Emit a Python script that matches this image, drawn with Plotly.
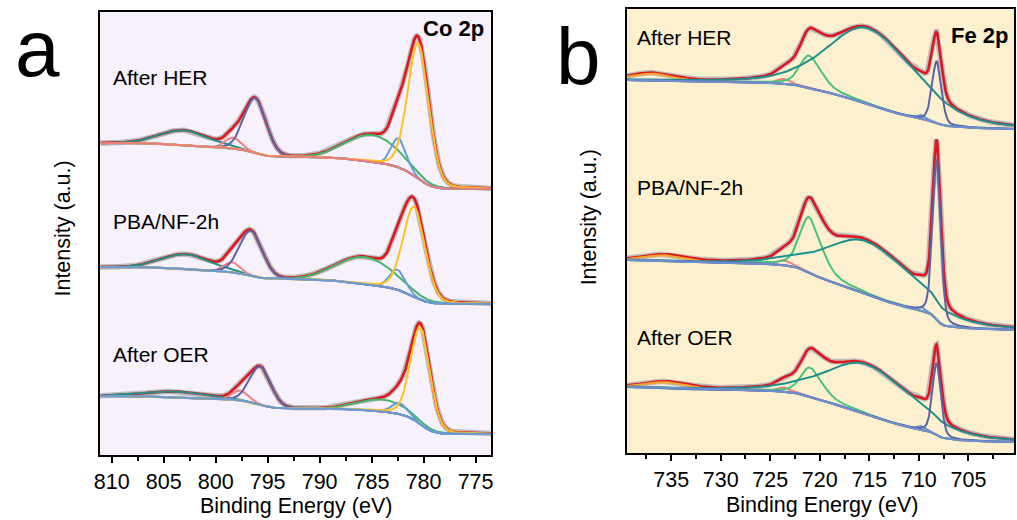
import numpy as np
import plotly.graph_objects as go
from plotly.subplots import make_subplots

# ---------------- Co 2p fit parameters ----------------
# component order: satellite 2p1/2, Co3+ 2p1/2, Co2+ 2p1/2, satellite 2p3/2, Co3+ 2p3/2, Co2+ 2p3/2
co_colors = ["#23908a", "#ef8080", "#5e64aa", "#43b46c", "#659fd8", "#ffc21c"]
co_samples = ["After HER", "PBA/NF-2h", "After OER"]
co_centers_her = [803.0, 798.3, 796.2, 784.9, 782.4, 780.5]
co_heights_her = [15, 11, 55, 27, 29, 135]
co_centers_pba = [802.8, 798.4, 796.6, 785.6, 782.5, 780.9]
co_heights_pba = [15, 10, 45, 27, 20, 90]
co_centers_oer = [803.6, 797.6, 795.7, 783.9, 782.3, 780.3]
co_heights_oer = [6, 10, 38, 12, 11, 97]
co_fwhm_her = [5.5, 1.8, 2.5, 6.0, 1.7, 2.4]
co_fwhm_pba = [5.5, 1.8, 2.6, 6.5, 1.8, 2.5]
co_fwhm_oer = [7.0, 1.8, 2.4, 5.5, 1.8, 2.2]
co_lfrac = [0.0, 0.0, 0.1, 0.0, 0.0, 0.15]
# background levels (high-BE end, low-BE end)
co_bg_her = [312, 266]
co_bg_pba = [188, 151]
co_bg_oer = [59, 21]
co_bg_colors = ["#ef7b7b", "#6a9bd6", "#6a9bd6"]

# ---------------- Fe 2p fit parameters ----------------
# component order: satellite, Fe 2p1/2 shoulder, Fe 2p1/2, broad 2p3/2, shoulder, Fe 2p3/2
fe_colors = ["#f4a62a", "#ee8282", "#47c27a", "#1c8f8f", "#6d8fd0", "#5a62a8"]
fe_samples = ["After HER", "PBA/NF-2h", "After OER"]
fe_centers_her = [736.8, 723.6, 721.1, 715.1, 709.7, 708.2]
fe_heights_her = [7, 5, 32, 76, 4, 62]
fe_centers_pba = [735.4, 723.6, 721.1, 715.3, 709.7, 708.2]
fe_heights_pba = [6, 5, 55, 53, 4, 160]
fe_centers_oer = [735.4, 723.6, 721.0, 715.3, 709.7, 708.2]
fe_heights_oer = [6, 4, 29, 50, 4, 72]
fe_fwhm_high = [5.0, 1.5, 2.2, 9.6, 1.0, 1.1]   # width on the high-BE side
fe_fwhm_low = [5.0, 1.5, 3.0, 11.5, 1.0, 1.1]   # width on the low-BE side
fe_navy_fwhm = [1.1, 0.95, 1.0]
fe_lfrac = [0.0, 0.0, 0.5, 0.3, 0.0, 0.3]
fe_bg_her = [373, 324]
fe_bg_pba = [193, 123]
fe_bg_oer = [66, 11]
fe_bg_colors = ["#6d8fd0", "#6d8fd0", "#6d8fd0"]

W, H = 1017, 520
FONT = "Arial, Liberation Sans, sans-serif"
RED = "#e0161f"
GREY = "#bdbdbd"


def peak(E, c, h, fh, fl, m):
    """Asymmetric pseudo-Voigt line shape."""
    f = np.where(E >= c, fh, fl)
    d = (E - c) / f
    g = np.exp(-4 * np.log(2) * d ** 2)
    lor = 1.0 / (1.0 + 4 * d ** 2)
    return h * ((1 - m) * g + m * lor)


def shirley(E, signal, bg_high, bg_low):
    """Shirley-type step background, E ascending."""
    cum = np.cumsum(signal)
    return bg_low + (bg_high - bg_low) * cum / cum[-1]


def add_spectrum(fig, col, E, comps, bg_levels, colors, bg_color):
    peaks = [peak(E, *p) for p in comps]
    total = np.sum(peaks, axis=0)
    bg = shirley(E, total, bg_levels[0], bg_levels[1])
    env = bg + total
    fig.add_trace(go.Scatter(x=E, y=env, mode="lines",
                             line=dict(color=GREY, width=5.5)), row=1, col=col)
    fig.add_trace(go.Scatter(x=E, y=env, mode="lines",
                             line=dict(color=RED, width=2.6)), row=1, col=col)
    for pk, c in zip(peaks, colors):
        fig.add_trace(go.Scatter(x=E, y=bg + pk, mode="lines",
                                 line=dict(color=c, width=2)), row=1, col=col)
    fig.add_trace(go.Scatter(x=E, y=bg, mode="lines",
                             line=dict(color=bg_color, width=2)), row=1, col=col)


fig = make_subplots(rows=1, cols=2)

co_range = [811.1, 773.5]
fe_range = [739.45, 700.4]
E_co = np.linspace(co_range[1], co_range[0], 900)
E_fe = np.linspace(fe_range[1], fe_range[0], 900)

co_sets = [
    (co_centers_her, co_heights_her, co_fwhm_her, co_bg_her),
    (co_centers_pba, co_heights_pba, co_fwhm_pba, co_bg_pba),
    (co_centers_oer, co_heights_oer, co_fwhm_oer, co_bg_oer),
]
for k, (cs, hs, fs, bgl) in enumerate(co_sets):
    comps = [(c, h, f, f, m) for c, h, f, m in zip(cs, hs, fs, co_lfrac)]
    add_spectrum(fig, 1, E_co, comps, bgl, co_colors, co_bg_colors[k])

fe_sets = [
    (fe_centers_her, fe_heights_her, fe_bg_her),
    (fe_centers_pba, fe_heights_pba, fe_bg_pba),
    (fe_centers_oer, fe_heights_oer, fe_bg_oer),
]
for k, (cs, hs, bgl) in enumerate(fe_sets):
    fh = list(fe_fwhm_high)
    fl = list(fe_fwhm_low)
    fh[5] = fl[5] = fe_navy_fwhm[k]
    comps = [(c, h, a, b, m) for c, h, a, b, m in zip(cs, hs, fh, fl, fe_lfrac)]
    add_spectrum(fig, 2, E_fe, comps, bgl, fe_colors, fe_bg_colors[k])


def px(x):
    return x / W


def py(y):
    return 1 - y / H


xaxis_common = dict(
    showline=True, mirror=True, linecolor="black", linewidth=2,
    ticks="outside", ticklen=6, tickwidth=1.5, tickcolor="black",
    dtick=5, tick0=0, showgrid=False, zeroline=False,
    tickfont=dict(family=FONT, size=21.5, color="black"),
    minor=dict(dtick=2.5, ticks="outside", ticklen=4, tickwidth=1.5,
               tickcolor="black", showgrid=False),
)
yaxis_common = dict(
    showline=True, mirror=True, linecolor="black", linewidth=2,
    ticks="", showticklabels=False, showgrid=False, zeroline=False,
)

fig.update_layout(
    width=W, height=H,
    margin=dict(l=0, r=0, t=0, b=0),
    paper_bgcolor="white", plot_bgcolor="white",
    showlegend=False,
    xaxis=dict(domain=[px(95), px(489)], range=co_range, **xaxis_common),
    yaxis=dict(domain=[py(455), py(12)], range=[0, 443], **yaxis_common),
    xaxis2=dict(domain=[px(626), px(1016)], range=fe_range, **xaxis_common),
    yaxis2=dict(domain=[py(453), py(9)], range=[0, 444], **yaxis_common),
    shapes=[
        dict(type="rect", xref="x domain", yref="y domain", x0=0, x1=1, y0=0, y1=1,
             fillcolor="#f6f1fb", line=dict(width=0), layer="below"),
        dict(type="rect", xref="x2 domain", yref="y2 domain", x0=0, x1=1, y0=0, y1=1,
             fillcolor="#fdf0cf", line=dict(width=0), layer="below"),
    ],
)

ann = []


def text(x, y, s, size=21, xanchor="center", bold=False, angle=0):
    ann.append(dict(
        x=px(x), y=py(y), xref="paper", yref="paper", text=s, showarrow=False,
        xanchor=xanchor, yanchor="middle", textangle=angle,
        font=dict(family=FONT, size=size, color="black",
                  weight="bold" if bold else "normal"),
    ))


# panel letters
text(32, 48, "a", size=80)
text(577, 56, "b", size=80)
# spectrum labels
for lab, y in zip(co_samples, [77, 221, 354]):
    text(106, y, lab, xanchor="left")
for lab, y in zip(fe_samples, [38, 187, 337]):
    text(634, y, lab, xanchor="left")
text(484, 28, "Co 2p", size=22, xanchor="right", bold=True)
text(1012, 36, "Fe 2p", size=22, xanchor="right", bold=True)
# axis titles
text(57, 229, "Intensity (a.u.)", size=21.5, angle=-90)
text(588, 217, "Intensity (a.u.)", size=21.5, angle=-90)
text(292, 506, "Binding Energy (eV)", size=21.5)
text(822, 505, "Binding Energy (eV)", size=21.5)

fig.update_layout(annotations=ann)
fig.write_html("out.html")
